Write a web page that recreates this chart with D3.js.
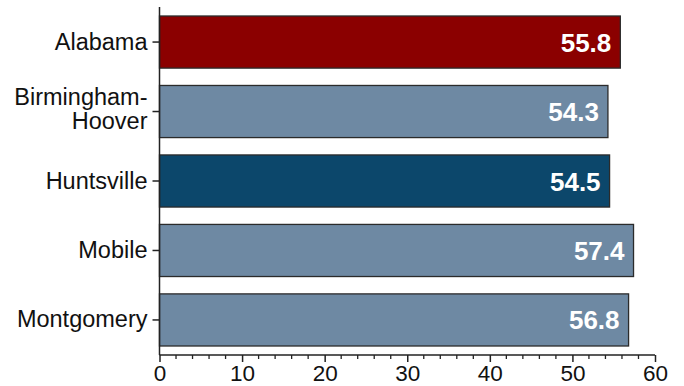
<!DOCTYPE html>
<html><head><meta charset="utf-8">
<script src="https://cdn.jsdelivr.net/npm/d3@7"></script>
<style>body{margin:0;background:#fff}svg{display:block;font-family:"Liberation Sans",Arial,sans-serif}</style>
</head><body><svg id="c" width="684" height="386"></svg>
<script>
const categories = ["Alabama", "Birmingham-Hoover", "Huntsville", "Mobile", "Montgomery"];
const values = [55.8, 54.3, 54.5, 57.4, 56.8];
const colors = ["#8b0000", "#6e89a3", "#0c476b", "#6e89a3", "#6e89a3"];
const xTicks = [0, 10, 20, 30, 40, 50, 60];

const svg = d3.select("#c");
const axisY = 355;
const x = d3.scaleLinear().domain([0, 60]).range([159.5, 655]);
const y = d3.scaleBand().domain(categories).range([16, 346]).paddingInner(0.25).paddingOuter(0);

svg.selectAll("rect.bar").data(categories).join("rect")
  .attr("class", "bar")
  .attr("x", x(0)).attr("y", d => y(d))
  .attr("width", (d, i) => x(values[i]) - x(0))
  .attr("height", y.bandwidth())
  .attr("fill", (d, i) => colors[i])
  .attr("stroke", "#2b2b2b").attr("stroke-width", 1.3);

svg.selectAll("text.val").data(categories).join("text")
  .attr("class", "val")
  .attr("x", (d, i) => x(values[i]) - 9)
  .attr("y", d => y(d) + y.bandwidth() / 2 + 9.5)
  .attr("text-anchor", "end").attr("fill", "#fff")
  .attr("font-weight", "bold").attr("font-size", 26)
  .text((d, i) => values[i].toFixed(1));

// x axis
const xAxis = d3.axisBottom(x).tickValues(xTicks).tickSize(7).tickPadding(3).tickFormat(d3.format("d"));
const gx = svg.append("g").attr("transform", `translate(0,${axisY})`).call(xAxis);
gx.select(".domain").attr("d", `M${x(0)},0H${x(60)}`).attr("stroke", "#222").attr("stroke-width", 1.5);
gx.selectAll(".tick line").attr("stroke", "#222").attr("stroke-width", 1.5);
gx.selectAll(".tick text").attr("font-size", 22.5).attr("fill", "#111").attr("font-family", "Liberation Sans, Arial, sans-serif");
const minor = d3.range(0, 61, 2).filter(v => v % 10 !== 0);
gx.selectAll("line.minor").data(minor).join("line").attr("class", "minor")
  .attr("x1", d => x(d)).attr("x2", d => x(d)).attr("y1", 0).attr("y2", 4)
  .attr("stroke", "#222").attr("stroke-width", 1.3);

// y axis
svg.append("line").attr("x1", x(0)).attr("x2", x(0)).attr("y1", 7).attr("y2", axisY)
  .attr("stroke", "#222").attr("stroke-width", 1.5);
const gy = svg.append("g");
gy.selectAll("line").data(categories).join("line")
  .attr("x1", x(0) - 7).attr("x2", x(0))
  .attr("y1", d => y(d) + y.bandwidth() / 2).attr("y2", d => y(d) + y.bandwidth() / 2)
  .attr("stroke", "#222").attr("stroke-width", 1.5);
gy.selectAll("text").data(categories).join("text")
  .attr("x", x(0) - 12)
  .attr("y", d => y(d) + y.bandwidth() / 2)
  .attr("text-anchor", "end").attr("font-size", 23.5).attr("fill", "#111")
  .each(function(d) {
    const t = d3.select(this);
    const parts = d === "Birmingham-Hoover" ? ["Birmingham-", "Hoover"] : [d];
    parts.forEach((p, k) => {
      t.append("tspan").attr("x", x(0) - 12)
        .attr("dy", k === 0 ? (parts.length > 1 ? -6.5 : 7.5) : 24)
        .text(p);
    });
  });
</script></body></html>
